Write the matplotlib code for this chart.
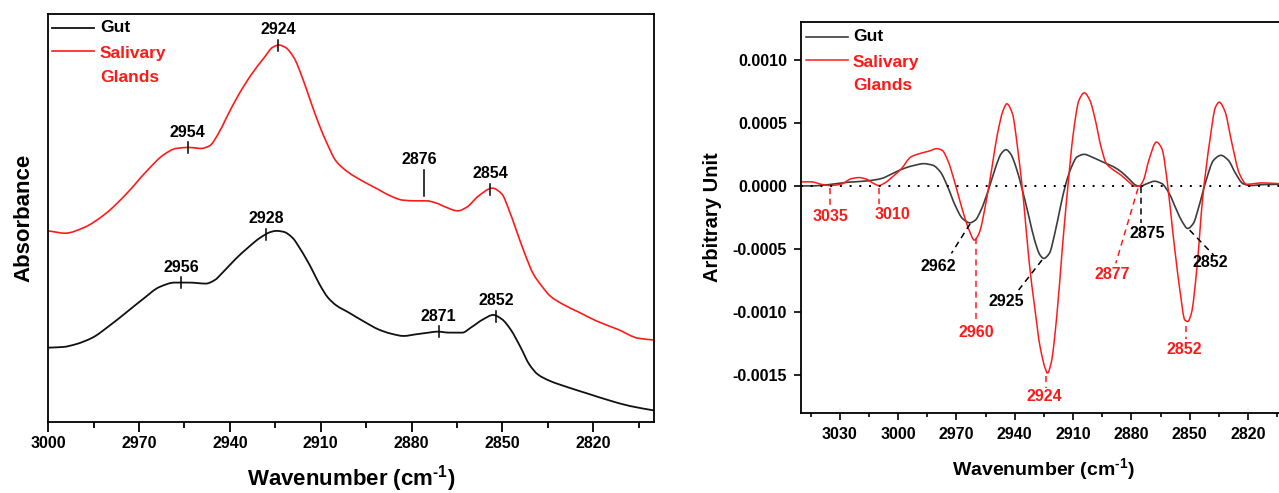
import numpy as np
import matplotlib
matplotlib.use("Agg")
import matplotlib.pyplot as plt
from matplotlib.path import Path
from matplotlib.patches import PathPatch

plt.rcParams['font.family'] = ['Liberation Sans', 'DejaVu Sans']
plt.rcParams['font.weight'] = 'bold'
plt.rcParams['mathtext.fontset'] = 'custom'
plt.rcParams['mathtext.rm'] = 'Liberation Sans:bold'
plt.rcParams['mathtext.bf'] = 'Liberation Sans:bold'
plt.rcParams['axes.linewidth'] = 1.3

# ---------------- Absorbance spectra (offset, arbitrary units) ----------------
abs_wn_sg = [3000.0, 2994.4, 2988.2, 2981.3, 2974.3, 2967.4, 2961.9, 2957.8, 2953.6,
             2949.5, 2946.7, 2943.9, 2941.1, 2937.0, 2932.8, 2928.6, 2925.9, 2923.8,
             2921.7, 2918.9, 2916.1, 2913.4, 2910.6, 2907.8, 2905.0, 2900.8, 2895.3,
             2891.1, 2887.0, 2882.8, 2878.6, 2875.1, 2871.7, 2868.9, 2864.7, 2861.9,
             2857.8, 2853.3, 2850.1, 2848.1, 2845.3, 2842.5, 2839.7, 2837.0, 2834.2,
             2830.0, 2824.4, 2818.9, 2811.9, 2805.0, 2800.0]
abs_sg = [0.572, 0.565, 0.582, 0.622, 0.682, 0.752, 0.800, 0.819, 0.822, 0.819,
          0.827, 0.862, 0.912, 0.982, 1.042, 1.092, 1.122, 1.129, 1.122, 1.092,
          1.032, 0.962, 0.892, 0.832, 0.782, 0.747, 0.717, 0.697, 0.677, 0.664,
          0.662, 0.662, 0.655, 0.644, 0.632, 0.642, 0.677, 0.700, 0.682, 0.642,
          0.572, 0.502, 0.442, 0.407, 0.377, 0.352, 0.327, 0.302, 0.277, 0.250,
          0.245]

abs_wn_gut = [3000.0, 2995.1, 2991.0, 2985.4, 2979.9, 2974.3, 2968.8, 2963.2, 2958.3,
              2953.5, 2947.9, 2945.1, 2942.4, 2938.2, 2934.0, 2929.9, 2926.4, 2924.6,
              2922.2, 2919.4, 2916.7, 2913.2, 2910.4, 2907.6, 2904.9, 2900.7, 2895.1,
              2891.0, 2886.8, 2882.6, 2878.5, 2874.3, 2871.5, 2867.4, 2863.2, 2860.4,
              2856.3, 2853.0, 2850.1, 2847.3, 2843.9, 2841.1, 2838.3, 2834.2, 2828.6,
              2821.7, 2814.7, 2807.8, 2800.0]
abs_gut = [0.222, 0.224, 0.232, 0.252, 0.287, 0.327, 0.367, 0.404, 0.417, 0.417,
           0.414, 0.424, 0.447, 0.487, 0.522, 0.552, 0.569, 0.572, 0.569, 0.552,
           0.517, 0.462, 0.412, 0.372, 0.349, 0.327, 0.297, 0.277, 0.264, 0.257,
           0.262, 0.267, 0.270, 0.267, 0.267, 0.282, 0.307, 0.320, 0.307, 0.277,
           0.222, 0.172, 0.142, 0.122, 0.104, 0.084, 0.064, 0.047, 0.034]

abs_peaks_sg = [2954, 2924, 2854]
abs_shoulder_sg = 2876
abs_peaks_gut = [2956, 2928, 2871, 2852]

# ---------------- Second-derivative spectra ----------------
d2_wn_sg = [3050.0, 3044.8, 3039.1, 3035.3, 3029.6, 3023.9, 3020.1, 3016.3, 3012.5,
            3010.0, 3006.8, 3003.0, 2998.3, 2993.5, 2987.8, 2984.0, 2980.2, 2977.4,
            2974.5, 2970.7, 2966.9, 2963.5, 2960.8, 2958.4, 2954.6, 2951.7, 2948.9,
            2946.0, 2944.1, 2941.2, 2938.4, 2935.5, 2932.7, 2929.8, 2927.0, 2924.1,
            2923.2, 2921.3, 2918.4, 2915.6, 2912.7, 2909.9, 2907.0, 2904.2, 2901.3,
            2898.5, 2895.6, 2892.8, 2889.0, 2885.2, 2881.4, 2878.5, 2876.1, 2873.8,
            2871.0, 2867.1, 2864.3, 2861.4, 2858.6, 2854.8, 2852.5, 2851.0, 2849.1,
            2846.2, 2843.4, 2839.6, 2836.7, 2834.8, 2832.0, 2828.2, 2824.4, 2820.6,
            2816.8, 2813.0, 2800.0]
d2_sg = [3.2e-5, 3.2e-5, 1.1e-5, 0.3e-5, 1.3e-5, 5.8e-5, 6.6e-5, 5.3e-5, 1.8e-5,
         0.3e-5, 2.4e-5, 7.1e-5, 1.37e-4, 2.29e-4, 2.61e-4, 2.76e-4, 2.95e-4, 2.82e-4,
         2.03e-4, 1.8e-5, -1.92e-4, -3.50e-4, -4.29e-4, -3.76e-4, -1.13e-4, 1.50e-4,
         4.13e-4, 5.97e-4, 6.50e-4, 5.71e-4, 2.82e-4, -1.13e-4, -5.87e-4, -9.55e-4,
         -1.271e-3, -1.455e-3, -1.482e-3, -1.403e-3, -1.034e-3, -5.08e-4, -0.8e-5,
         4.13e-4, 6.76e-4, 7.37e-4, 6.76e-4, 5.18e-4, 3.08e-4, 1.76e-4, 1.24e-4,
         8.4e-5, 3.2e-5, 0.0, -0.3e-5, 4.5e-5, 2.03e-4, 3.47e-4, 2.95e-4, 1.8e-5,
         -3.76e-4, -8.50e-4, -1.061e-3, -1.074e-3, -1.008e-3, -6.39e-4, -1.13e-4,
         3.61e-4, 6.24e-4, 6.63e-4, 5.97e-4, 3.34e-4, 9.7e-5, 1.3e-5, 1.8e-5, 2.4e-5,
         1.3e-5]

d2_wn_gut = [3050.0, 3044.8, 3035.3, 3025.8, 3016.3, 3008.7, 3003.0, 2997.3, 2991.6,
             2986.9, 2982.1, 2978.3, 2974.5, 2970.7, 2966.9, 2963.1, 2960.3, 2957.4,
             2953.6, 2949.8, 2947.0, 2944.5, 2942.2, 2939.4, 2936.5, 2932.7, 2929.8,
             2927.0, 2925.1, 2922.2, 2919.4, 2916.5, 2913.7, 2910.8, 2908.0, 2904.2,
             2900.4, 2896.6, 2892.8, 2889.0, 2885.2, 2881.4, 2877.6, 2875.7, 2871.9,
             2868.1, 2864.3, 2860.5, 2856.7, 2853.8, 2851.0, 2848.1, 2845.3, 2841.5,
             2837.7, 2833.9, 2830.1, 2826.3, 2822.5, 2818.7, 2811.1, 2800.0]
d2_gut = [0.0, 0.0, 1.1e-5, 2.9e-5, 3.9e-5, 5.8e-5, 9.7e-5, 1.37e-4, 1.63e-4,
          1.76e-4, 1.63e-4, 1.11e-4, -0.8e-5, -1.53e-4, -2.58e-4, -2.92e-4, -2.71e-4,
          -1.92e-4, -3.4e-5, 1.50e-4, 2.55e-4, 2.87e-4, 2.55e-4, 1.50e-4, -0.8e-5,
          -2.45e-4, -4.29e-4, -5.47e-4, -5.74e-4, -5.34e-4, -3.76e-4, -1.66e-4, 1.8e-5,
          1.50e-4, 2.29e-4, 2.50e-4, 2.29e-4, 2.03e-4, 1.76e-4, 1.50e-4, 1.11e-4,
          5.8e-5, 0.5e-5, -0.3e-5, 1.8e-5, 3.7e-5, 1.8e-5, -6.1e-5, -1.92e-4,
          -2.84e-4, -3.37e-4, -2.97e-4, -1.66e-4, 4.5e-5, 2.03e-4, 2.42e-4, 2.03e-4,
          9.7e-5, 1.8e-5, 0.3e-5, 1.1e-5, 1.3e-5]

d2_peaks_sg = [3035, 3010, 2960, 2924, 2877, 2852]
d2_peaks_gut = [2962, 2925, 2875, 2852]

RED = '#ff1a1a'
GUT_ABS = '#111111'
GUT_D2 = '#3c3c3c'
XLABEL = r'Wavenumber (cm$^{\text{-1}}$)'


def spline_trace(ax, x, y, color, lw):
    """Draw the trace with a smooth (monotone cubic Hermite) connection between points."""
    x = np.asarray(x, float)
    y = np.asarray(y, float)
    h = np.diff(x)
    d = np.diff(y) / h
    m = np.empty_like(x)
    m[0], m[-1] = d[0], d[-1]
    for i in range(1, len(x) - 1):
        if d[i - 1] * d[i] <= 0:
            m[i] = 0.0
        else:
            w1 = 2 * h[i] + h[i - 1]
            w2 = h[i] + 2 * h[i - 1]
            m[i] = (w1 + w2) / (w1 / d[i - 1] + w2 / d[i])
    verts = [(x[0], y[0])]
    codes = [Path.MOVETO]
    for i in range(len(x) - 1):
        verts += [(x[i] + h[i] / 3, y[i] + m[i] * h[i] / 3),
                  (x[i + 1] - h[i] / 3, y[i + 1] - m[i + 1] * h[i] / 3),
                  (x[i + 1], y[i + 1])]
        codes += [Path.CURVE4] * 3
    ax.add_patch(PathPatch(Path(verts, codes), fill=False, edgecolor=color, lw=lw,
                           capstyle='round', joinstyle='round'))


def at(wn, curve_wn, curve_y):
    return np.interp(wn, np.asarray(curve_wn)[::-1], np.asarray(curve_y)[::-1])


fig = plt.figure(figsize=(12.79, 4.93), dpi=100)

# ======================= Absorbance panel =======================
ax1 = fig.add_axes([0.03776, 0.1446, 0.4733, 0.8270])
spline_trace(ax1, abs_wn_gut, abs_gut, GUT_ABS, 1.3)
spline_trace(ax1, abs_wn_sg, abs_sg, RED, 1.2)
ax1.set_xlim(3000, 2800)
ax1.set_ylim(0, 1.222)
ax1.set_xticks([3000, 2970, 2940, 2910, 2880, 2850, 2820])
ax1.set_xticks(np.arange(3000, 2799, -15), minor=True)
ax1.tick_params(axis='x', which='major', direction='out', length=7, width=1.3,
                labelsize=11.5, pad=3)
ax1.tick_params(axis='x', which='minor', direction='out', length=4, width=1.3)
ax1.set_yticks([])
ax1.set_xlabel(XLABEL, fontsize=16, fontweight='bold', labelpad=9)
ax1.set_ylabel('Absorbance', fontsize=16, fontweight='bold', labelpad=10)

for peaks, cw, cy in [(abs_peaks_sg, abs_wn_sg, abs_sg),
                      (abs_peaks_gut, abs_wn_gut, abs_gut)]:
    for wn in peaks:
        y = at(wn, cw, cy)
        ax1.plot([wn, wn], [y - 0.016, y + 0.016], color='black', lw=1.1)
        ax1.text(wn, y + 0.024, str(wn), ha='center', va='bottom',
                 fontsize=11.5, fontweight='bold', color='black')

# the 2876 shoulder is flagged by a line standing above the trace
y = at(abs_shoulder_sg, abs_wn_sg, abs_sg)
ax1.plot([abs_shoulder_sg] * 2, [y + 0.015, y + 0.092], color='black', lw=1.1)
ax1.text(abs_shoulder_sg + 1.5, y + 0.100, str(abs_shoulder_sg), ha='center',
         va='bottom', fontsize=11.5, fontweight='bold')

# legend
ax1.plot([0.006, 0.0755], [0.966, 0.966], transform=ax1.transAxes, color=GUT_ABS, lw=1.3)
ax1.plot([0.006, 0.0755], [0.910, 0.910], transform=ax1.transAxes, color=RED, lw=1.2)
for txt, yy, col in [('Gut', 0.966, 'black'), ('Salivary', 0.904, RED),
                     ('Glands', 0.845, RED)]:
    ax1.text(0.0854, yy, txt, transform=ax1.transAxes, va='center', ha='left',
             fontsize=12.5, fontweight='bold', color=col)

# ======================= Second-derivative panel =======================
ax2 = fig.add_axes([0.6263, 0.1617, 0.3798, 0.7943])
ax2.axhline(0, color='black', lw=1.4, ls=(0, (1, 4)))
spline_trace(ax2, d2_wn_gut, d2_gut, GUT_D2, 1.2)
spline_trace(ax2, d2_wn_sg, d2_sg, RED, 1.1)
ax2.set_xlim(3050, 2800)
ax2.set_ylim(-0.0018, 0.0013)
ax2.set_xticks([3030, 3000, 2970, 2940, 2910, 2880, 2850, 2820])
ax2.set_xticks(np.arange(3045, 2799, -15), minor=True)
ax2.set_yticks([0.0010, 0.0005, 0.0, -0.0005, -0.0010, -0.0015])
ax2.set_yticklabels(['0.0010', '0.0005', '0.0000', '-0.0005', '-0.0010', '-0.0015'])
ax2.tick_params(axis='both', which='major', direction='out', length=5, width=1.2,
                labelsize=11.5, pad=5)
ax2.tick_params(axis='x', which='minor', direction='out', length=3, width=1.2)
ax2.set_xlabel(XLABEL, fontsize=14, fontweight='bold', labelpad=10)
ax2.set_ylabel('Arbitrary Unit', fontsize=14.5, fontweight='bold', labelpad=8)

dash = dict(ls=(0, (4, 3)), lw=1.1)
fs = 11.5


def label(wn, yv, text, color):
    ax2.text(wn, yv, text, ha='center', va='center', fontsize=fs,
             fontweight='bold', color=color)


# red minima with dashed leaders
ax2.plot([3035, 3035], [-0.2e-4, -1.5e-4], color=RED, **dash)
label(3035, -2.4e-4, '3035', RED)
ax2.plot([3010, 3010], [-0.2e-4, -1.4e-4], color=RED, **dash)
label(3003, -2.26e-4, '3010', RED)

y = at(2960, d2_wn_sg, d2_sg)
ax2.plot([2960, 2960], [y, -1.07e-3], color=RED, **dash)
label(2960, -1.158e-3, '2960', RED)

y = at(2924, d2_wn_sg, d2_sg)
ax2.plot([2924, 2924], [y - 0.05e-3, -1.60e-3], color=RED, **dash)
label(2925, -1.671e-3, '2924', RED)

ax2.plot([2876.6, 2888.0], [-2e-5, -6.13e-4], color=RED, **dash)
label(2890, -7.05e-4, '2877', RED)

y = at(2852, d2_wn_sg, d2_sg)
ax2.plot([2852, 2852], [y - 0.04e-3, -1.21e-3], color=RED, **dash)
label(2852.5, -1.292e-3, '2852', RED)

# gut minima with dashed leaders
ax2.plot([2963, 2972.6], [-3.0e-4, -5.34e-4], color='black', **dash)
label(2979.3, -6.39e-4, '2962', 'black')
ax2.plot([2926.0, 2938.0], [-5.87e-4, -8.24e-4], color='black', **dash)
label(2944.5, -9.16e-4, '2925', 'black')
ax2.plot([2875, 2875], [-0.1e-4, -2.9e-4], color='black', **dash)
label(2871.9, -3.76e-4, '2875', 'black')
ax2.plot([2850.0, 2837.7], [-3.5e-4, -5.47e-4], color='black', **dash)
label(2839.2, -6.08e-4, '2852', 'black')

# legend
ax2.plot([0.0103, 0.0967], [0.961, 0.961], transform=ax2.transAxes, color=GUT_D2, lw=1.2)
ax2.plot([0.0103, 0.0967], [0.902, 0.902], transform=ax2.transAxes, color=RED, lw=1.1)
for txt, yy, col in [('Gut', 0.961, 'black'), ('Salivary', 0.897, RED),
                     ('Glands', 0.836, RED)]:
    ax2.text(0.107, yy, txt, transform=ax2.transAxes, va='center', ha='left',
             fontsize=12.5, fontweight='bold', color=col)

fig.savefig('out.png', dpi=100)
